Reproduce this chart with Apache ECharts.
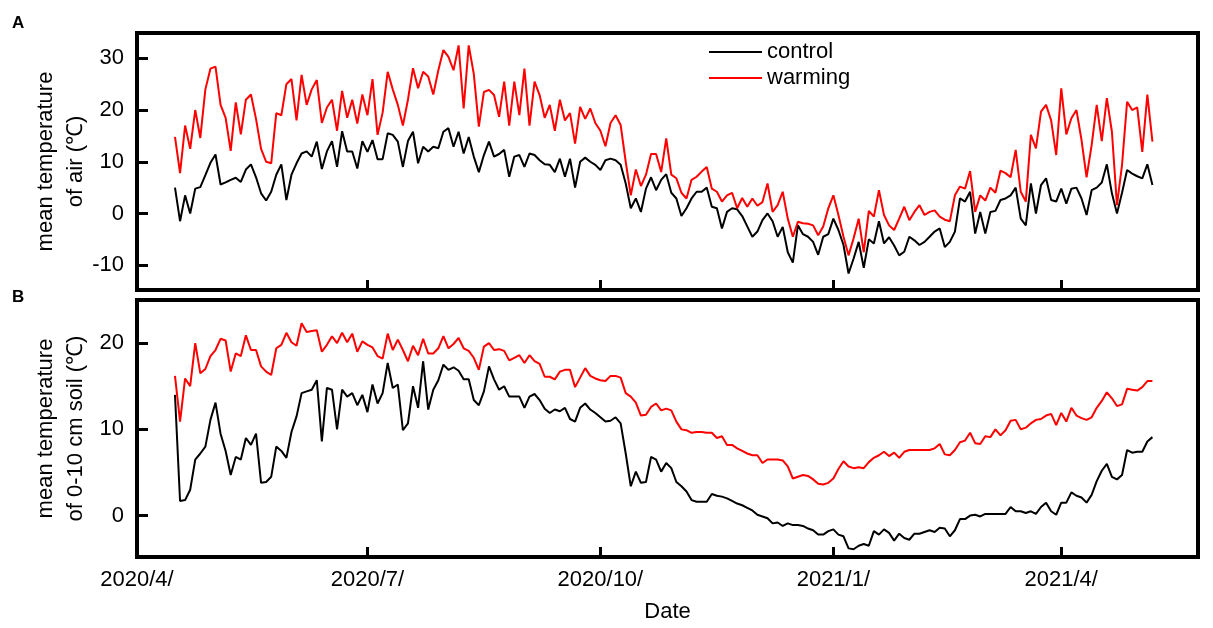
<!DOCTYPE html>
<html>
<head>
<meta charset="utf-8">
<title>Mean air and soil temperature</title>
<script src="https://cdn.jsdelivr.net/npm/echarts@6/dist/echarts.min.js"></script>
<style>
  html, body { margin: 0; padding: 0; background: #fff; }
  #chart { width: 1213px; height: 628px; }
</style>
</head>
<body>
<div id="chart"></div>
<script>
// readings every 2nd day, first one 15 days after 2020/4/1
const firstDay = 15;
const dayStep = 2;

const airControl = [
  5, -1.5, 3.5, 0, 4.8, 5.1, 7.4, 9.8, 11.4, 5.6, 6, 6.5, 6.9, 6.1, 8.5, 9.5, 7, 3.9, 2.5, 4.2,
  7.5, 9.5, 2.6, 7.5, 9.7, 11.6, 12, 11, 13.9, 8.6, 12, 14, 9, 15.9, 12, 12, 8.7, 14, 11.9, 14.2,
  10.5, 10.5, 15.5, 15.2, 13.9, 9, 14,
  15.8, 9.7, 12.9, 12, 12.9, 12.6, 15.8, 16.5, 12.9, 15.8, 11.6, 14.8, 11, 8, 11.3, 13.9, 11, 11.5, 12.3, 7.1,
  11, 11.3, 9, 11.6, 11.3, 10.3, 9.5, 9.4, 8, 10.6, 7.1, 10.6, 5, 10, 10.8, 10, 9.4, 8.4, 10.3, 10.6,
  10.3, 9.4, 5.8, 1, 2.9, 0.3, 4.8, 7, 4.5, 6.5, 7.6, 4, 2.9, -0.5,
  1, 2.9, 4.2, 4.2, 5, 1.3, 1, -2.9, 0.3, 1, 0.8, -0.5, -2.5, -4.5, -3.5, -1.3, 0, -1.5, -4.5, -2.6,
  -7.5, -9.5, -2.3, -4, -4.5, -5.5, -8, -4.5, -4, -1, -3.2, -6.1, -11.6, -8.7, -5.5, -10.5, -5, -5.8, -1.5, -5.8,
  -4.6, -6.2, -8.1, -7.4, -4.5, -5.2, -6.1, -5.5, -4.5, -3.5, -2.9, -6.5, -5.5, -3.5, 2.9,
  2.3, 4.2, -3.9, 0.3, -3.9, 0.3, 0.5, 2.6, 2.9, 3.5, 5, -1, -2.3, 5.8, 0, 5.5, 6.8, 2.6, 2.3, 4.8,
  1.9, 4.8, 5, 2.9, -0.3, 4.5, 5, 6, 9.5, 3.9, 0, 4, 8.4, 7.7, 7.2, 6.8, 9.5, 5.5
];
const airWarming = [
  14.8, 7.8, 17, 12.5, 20, 14.6, 24, 28, 28.4, 21, 18.5, 12.1, 21.5, 15.3, 22, 23, 18.3, 12.5, 10, 9.7,
  19.4, 19, 25, 26, 18, 26.8, 21, 24, 25.8, 17.5, 20.5, 22, 16, 23.7, 18.5, 22, 17.4, 23, 19, 26,
  15.2, 19.5, 27.4, 24, 21, 17, 22,
  28.1, 24.2, 27.4, 26.5, 23, 27.7, 31.6, 30.3, 27.7, 32.5, 20.3, 32.5, 27, 16.8, 23.5, 23.9, 22.9, 18.7, 25.5, 17,
  25.5, 19, 28, 17, 25.5, 22.9, 18.5, 21, 16, 22, 18, 19.4, 13.5, 20.6, 18.3, 20.3, 17.5, 16, 13, 17.5,
  19, 17.1, 10, 3.5, 8.5, 5.3, 7.5, 11.5, 11.5, 8, 14.5, 7.5, 6.8, 4,
  2.9, 6.5, 7.1, 8.1, 9, 4.8, 4.2, 2.3, 3.5, 4, 1, 3, 1.3, 2.9, 1.5, 2.2, 5.8, 0.3, 1.6, 4.2,
  -1, -4.5, -1.6, -1.9, -2, -2.3, -4.2, -2.5, 1, 3.5, -0.3, -4.5, -8.1, -4.8, -1, -7.5, 0.5, -0.6, 4.5, -0.3,
  -2.3, -3.2, -1, 1.3, -1.3, 0.3, 1.6, -0.3, 0.3, 0.6, -0.6, -1.2, -1.5, 3.5, 5.2,
  4.8, 8.2, 0.3, 3.5, 2.5, 5, 4, 8.3, 7.8, 7, 12.3, 4.2, 2.3, 15.2, 12.6, 19.7, 21, 18, 11.3, 24.2,
  15.3, 18.4, 20, 14.2, 7, 13.2, 21, 14, 22.3, 15.8, 1.6, 9.4, 21.6, 20, 20.5, 11.9, 23, 13.9
];
const soilControl = [
  14, 1.7, 1.8, 3, 6.5, 7.2, 8, 11.1, 13.1, 9.5, 7.5, 4.7, 6.8, 6.5, 9, 8.2, 9.5, 3.8, 3.9, 4.5,
  8, 7.5, 6.7, 9.7, 11.5, 14.2, 14.4, 14.6, 15.7, 8.6, 14.8, 14.6, 10, 14.6, 13.8, 14.2, 12.8, 14, 12, 15.2,
  13, 14.2, 17.7, 14.8, 15.2, 9.9, 10.7,
  15, 12.5, 17.9, 12.3, 14.6, 15.7, 17.5, 16.9, 17.2, 16.8, 15.8, 15.8, 13.4, 12.8, 14.4, 17.3, 15.8, 14.6, 15, 13.8,
  13.8, 13.8, 12.5, 13.8, 14.1, 13.4, 12.4, 11.9, 12.3, 12.1, 12.5, 11.2, 10.9, 12.5, 13, 12.3, 11.9, 11.4, 10.9, 11,
  11.4, 10.7, 7.2, 3.4, 5.1, 3.8, 3.9, 6.8, 6.5, 5.1, 6.1, 5.5, 3.9, 3.4,
  2.8, 1.8, 1.6, 1.6, 1.6, 2.5, 2.3, 2.2, 2, 1.7, 1.4, 1.2, 0.9, 0.6, 0.1, -0.1, -0.3, -0.9, -0.8, -1.2,
  -0.9, -1.1, -1.1, -1.2, -1.5, -1.7, -2.2, -2.2, -1.8, -1.6, -2.2, -2.4, -3.8, -3.9, -3.5, -3.3, -3.5, -1.8, -2.2, -1.6,
  -2, -2.9, -2.1, -2.6, -2.8, -2.1, -2.1, -1.9, -1.7, -1.9, -1.4, -1.5, -2.4, -1.7, -0.4,
  -0.4, 0, 0.1, -0.1, 0.2, 0.2, 0.2, 0.2, 0.2, 1, 0.5, 0.5, 0.3, 0.5, 0.2, 1, 1.5, 0.5, 0.1, 1.5,
  1.5, 2.7, 2.3, 2.1, 1.5, 2.4, 4, 5.2, 6, 4.5, 4.2, 4.7, 7.6, 7.3, 7.4, 7.4, 8.6, 9.1
];
const soilWarming = [
  16.2, 10.9, 15.9, 15, 20, 16.5, 17, 18.5, 19.2, 20.5, 20.3, 16.7, 18.8, 18.5, 20.9, 19.2, 19.2, 17.3, 16.7, 16.3,
  19.4, 19.8, 21.2, 20.1, 19.7, 22.3, 21.3, 21.4, 21.5, 19, 19.8, 20.8, 20, 21.2, 20.1, 21.1, 19, 20.2, 19.8, 19.5,
  18.5, 18.2, 21.1, 19.2, 20.4, 19.2, 17.9,
  19.7, 18.6, 20.5, 18.8, 18.8, 19.4, 20.8, 19.4, 19.9, 20.6, 19.4, 19.1, 18.3, 16.9, 19.6, 20, 19.2, 19.3, 19.1, 18,
  18.3, 18.6, 17.7, 18.6, 17.9, 17.6, 16.1, 16.1, 15.8, 16.7, 16.9, 16.9, 14.9, 16, 17.1, 16.2, 15.9, 15.7, 15.6, 16.2,
  16.2, 16, 14.2, 13.8, 13.1, 11.6, 11.7, 12.6, 13, 12.2, 12.4, 12.2, 10.9, 10,
  9.9, 9.6, 9.7, 9.7, 9.6, 9.6, 9, 9.2, 8.2, 8.2, 7.8, 7.5, 7.2, 7, 7, 6.1, 6.5, 6.5, 6.5, 6.4,
  5.7, 4.3, 4.5, 4.7, 4.6, 4.2, 3.7, 3.6, 3.8, 4.3, 5.4, 6.3, 5.7, 5.5, 5.6, 5.5, 6.2, 6.7, 7, 7.4,
  6.9, 7.3, 6.7, 7.4, 7.6, 7.6, 7.6, 7.6, 7.6, 7.8, 8.3, 7.1, 7, 7.6, 8.5,
  8.7, 9.6, 8.4, 8.3, 9.2, 9.1, 10, 9.3, 9.9, 11, 11.1, 10, 10.2, 10.7, 11.1, 11.2, 11.6, 11.8, 10.5, 11.9,
  10.9, 12.5, 11.6, 11.3, 11.1, 11.4, 12.5, 13.3, 14.3, 13.6, 12.7, 12.9, 14.7, 14.6, 14.5, 14.9, 15.6, 15.6
];

// x axis counts days from 2020/4/1
const tickDays = [0, 91, 183, 275, 365];
const tickLabels = ['2020/4/', '2020/7/', '2020/10/', '2021/1/', '2021/4/'];
const airTicks = [-10, 0, 10, 20, 30];
const soilTicks = [0, 10, 20];

const font = 'Liberation Sans, Arial, sans-serif';
const black = '#000';

function pairs(values) {
  return values.map((v, i) => [firstDay + i * dayStep, v]);
}

function xAxis(gridIndex, withLabels) {
  return {
    type: 'value',
    gridIndex,
    min: 0,
    max: 419,
    axisLine: { show: true, onZero: false, lineStyle: { color: black, width: 4 } },
    axisTick: { show: true, inside: true, length: 10, customValues: tickDays, lineStyle: { color: black, width: 3 } },
    axisLabel: {
      show: withLabels,
      customValues: tickDays,
      formatter: (v) => tickLabels[tickDays.indexOf(v)] || '',
      color: black, fontSize: 22, fontFamily: font, margin: 12,
    },
    splitLine: { show: false },
    name: withLabels ? 'Date' : '',
    nameLocation: 'middle',
    nameGap: 44,
    nameMoveOverlap: false,
    nameTextStyle: { color: black, fontSize: 22, fontFamily: font },
  };
}

function yAxis(gridIndex, min, max, ticks, title) {
  return {
    type: 'value',
    gridIndex,
    min,
    max,
    axisLine: { show: true, onZero: false, lineStyle: { color: black, width: 4 } },
    axisTick: { show: true, inside: true, length: 11, customValues: ticks, lineStyle: { color: black, width: 3 } },
    axisLabel: { customValues: ticks, color: black, fontSize: 22, fontFamily: font, margin: 13 },
    splitLine: { show: false },
    name: title,
    nameLocation: 'middle',
    nameRotate: 90,
    nameGap: 46,
    nameMoveOverlap: false,
    nameTextStyle: { color: black, fontSize: 22, fontFamily: font, lineHeight: 30 },
  };
}

function line(name, color, axisIndex, values) {
  return {
    name,
    type: 'line',
    xAxisIndex: axisIndex,
    yAxisIndex: axisIndex,
    data: pairs(values),
    symbol: 'none',
    lineStyle: { color, width: 2 },
    itemStyle: { color },
  };
}

const chart = echarts.init(document.getElementById('chart'));
chart.setOption({
  animation: false,
  backgroundColor: '#fff',
  grid: [
    { left: 137, right: 15, top: 33, height: 257, show: true, borderColor: black, borderWidth: 4 },
    { left: 137, right: 15, top: 300, height: 257, show: true, borderColor: black, borderWidth: 4 },
  ],
  graphic: [
    { type: 'text', left: 12, top: 15, style: { text: 'A', fontSize: 17, fontWeight: 'bold', fontFamily: font, fill: black } },
    { type: 'text', left: 12, top: 289, style: { text: 'B', fontSize: 17, fontWeight: 'bold', fontFamily: font, fill: black } },
  ],
  legend: {
    data: ['control', 'warming'],
    orient: 'vertical',
    left: 704,
    top: 36,
    icon: 'rect',
    itemWidth: 53,
    itemHeight: 2,
    itemGap: 4,
    textStyle: { color: black, fontSize: 22, fontFamily: font },
  },
  xAxis: [xAxis(0, false), xAxis(1, true)],
  yAxis: [
    yAxis(0, -14.8, 34.9, airTicks, 'mean temperature\nof air (℃)'),
    yAxis(1, -4.8, 25, soilTicks, 'mean temperature\nof 0-10 cm soil (℃)'),
  ],
  series: [
    line('control', '#000000', 0, airControl),
    line('warming', '#ff0000', 0, airWarming),
    line('control', '#000000', 1, soilControl),
    line('warming', '#ff0000', 1, soilWarming),
  ],
});
</script>
</body>
</html>
